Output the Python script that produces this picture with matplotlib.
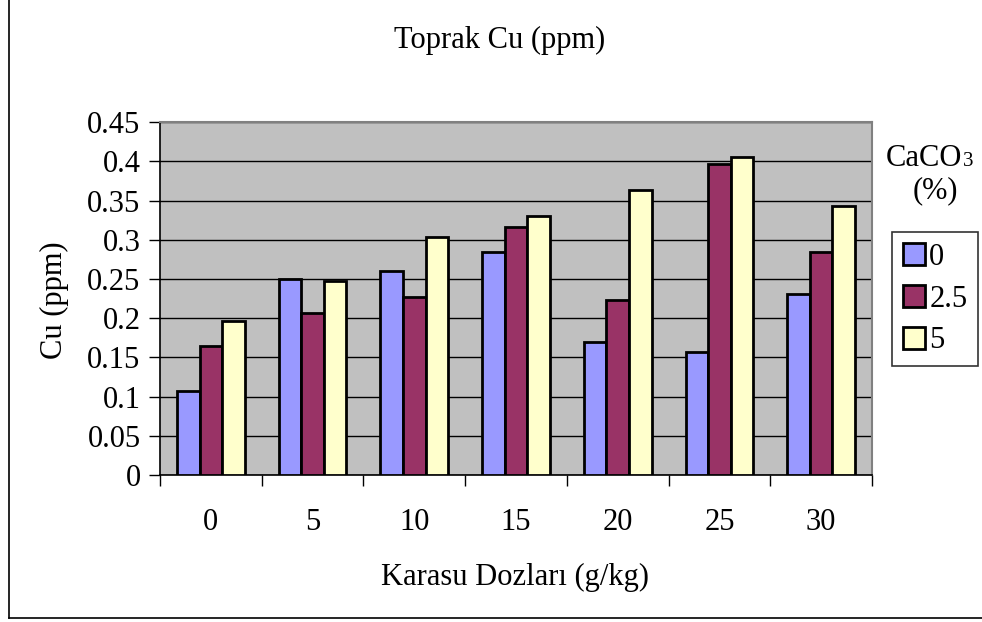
import matplotlib
matplotlib.use("Agg")
import matplotlib.pyplot as plt
import numpy as np
from matplotlib.lines import Line2D

plt.rcParams['font.family'] = ['Liberation Serif', 'DejaVu Serif']

doses = ["0", "5", "10", "15", "20", "25", "30"]
series_names = ["0", "2.5", "5"]
cu_0 = [0.107, 0.250, 0.260, 0.284, 0.170, 0.157, 0.231]
cu_25 = [0.164, 0.207, 0.227, 0.317, 0.223, 0.397, 0.284]
cu_5 = [0.197, 0.247, 0.304, 0.330, 0.364, 0.406, 0.343]
colors = ["#9999FF", "#993366", "#FFFFCC"]
y_ticks = [0, 0.05, 0.1, 0.15, 0.2, 0.25, 0.3, 0.35, 0.4, 0.45]
y_tick_labels = ["0", "0.05", "0.1", "0.15", "0.2", "0.25", "0.3", "0.35", "0.4", "0.45"]

FS = 22
W, H = 982, 622
fig = plt.figure(figsize=(W / 100, H / 100), dpi=100)

ax = fig.add_axes([160 / W, 1 - 475 / H, (872 - 160) / W, (475 - 122.3) / H])
ax.set_facecolor("#C0C0C0")

x = np.arange(len(doses))
bw = 1 / 4.5
for i, (vals, c, name) in enumerate(zip([cu_0, cu_25, cu_5], colors, series_names)):
    ax.bar(x + (i - 1) * bw, vals, width=bw, color=c, edgecolor="black",
           linewidth=2, label=name, zorder=3)

ax.set_xlim(-0.5, len(doses) - 0.5)
ax.set_ylim(0, 0.45)
ax.set_yticks(y_ticks)
ax.set_yticklabels(y_tick_labels)
ax.yaxis.grid(True, color="black", linewidth=1, zorder=0)
ax.set_axisbelow(True)

ax.set_xticks(x)
ax.set_xticklabels(doses)
ax.set_xticks(np.arange(-0.5, len(doses), 1.0), minor=True)
ax.tick_params(axis="x", which="major", length=0, pad=24, labelsize=FS)
ax.tick_params(axis="x", which="minor", length=8, width=1, direction="out", color="black")
ax.tick_params(axis="y", length=8, width=1, direction="out", pad=6, labelsize=FS)

for side in ("top", "right"):
    ax.spines[side].set_color("#808080")
    ax.spines[side].set_linewidth(1.5)
for side in ("left", "bottom"):
    ax.spines[side].set_color("black")
    ax.spines[side].set_linewidth(1.2)

fig.text(500 / W, 1 - 40 / H, "Toprak Cu (ppm)", ha="center", va="center", fontsize=FS)
fig.text(515 / W, 1 - 577 / H, "Karasu Dozları (g/kg)", ha="center", va="center", fontsize=FS)
fig.text(54 / W, 1 - 300 / H, "Cu (ppm)", ha="center", va="center", rotation=90, fontsize=FS)

# legend title: CaCO3 with a small 3
fig.text(962 / W, 1 - 158 / H, "CaCO", ha="right", va="center", fontsize=FS)
fig.text(963 / W, 1 - 161 / H, "3", ha="left", va="center", fontsize=15)
fig.text(935 / W, 1 - 191 / H, "(%)", ha="center", va="center", fontsize=FS)

leg = fig.legend(loc="upper left", bbox_to_anchor=(892 / W, 1 - 232 / H),
                 frameon=True, fancybox=False, edgecolor="black", fontsize=FS,
                 handlelength=0.72, handleheight=0.72, handletextpad=0.15,
                 labelspacing=0.42, borderpad=0.35, borderaxespad=0)
leg.get_frame().set_linewidth(1.2)

# outer chart frame
fig.add_artist(Line2D([8.5 / W, 8.5 / W], [1, 1 - 618 / H], color="black", linewidth=1.2))
fig.add_artist(Line2D([8.5 / W, 1], [1 - 618 / H, 1 - 618 / H], color="black", linewidth=1.2))

fig.savefig("out.png", dpi=100)
